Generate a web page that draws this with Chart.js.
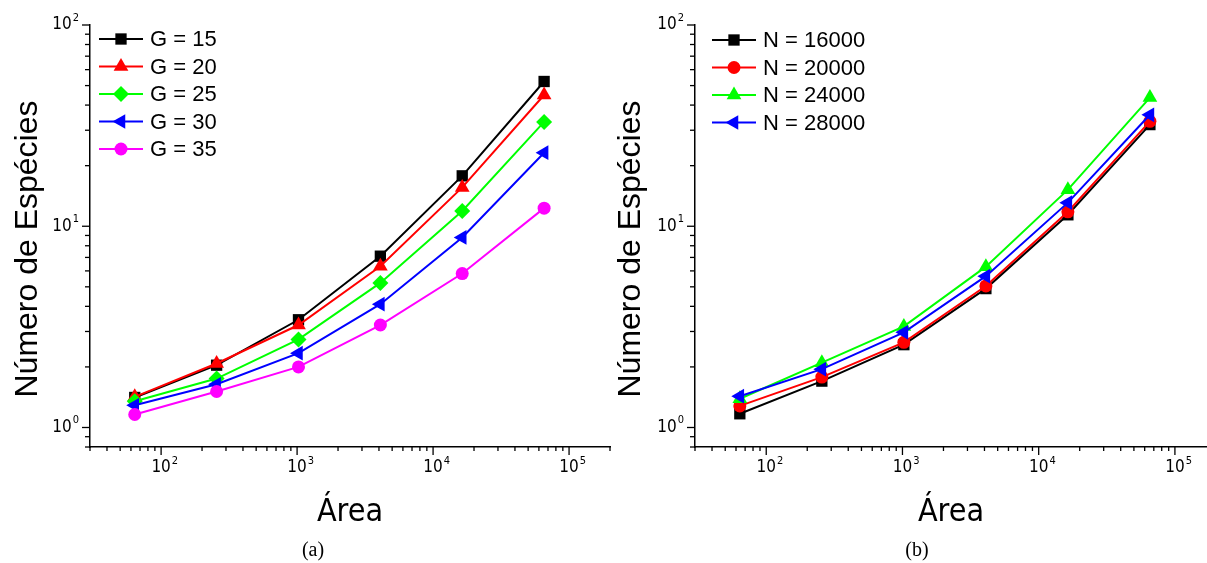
<!DOCTYPE html>
<html>
<head>
<meta charset="utf-8">
<script src="https://cdn.jsdelivr.net/npm/chart.js@4.4.1/dist/chart.umd.min.js"></script>
<style>
  body { margin: 0; background: #fff; }
  #wrap { position: relative; width: 1207px; height: 563px; overflow: hidden; }
  canvas { position: absolute; top: 0; }
  .cap { position: absolute; font: 20px 'Liberation Serif', 'Times New Roman', serif; transform: translate(-50%, -50%); color: #000; }
</style>
</head>
<body>
<div id="wrap">
  <canvas id="painelA" width="612" height="563" style="left:0"></canvas>
  <canvas id="painelB" width="595" height="563" style="left:612px"></canvas>
  <div class="cap" style="left:313px;top:549px">(a)</div>
  <div class="cap" style="left:917px;top:549px">(b)</div>
</div>
<script>
// areas simuladas (eixo x)
const areas = [64, 256, 1024, 4096, 16384, 65536];

// painel (a): variando G
const g15 = [1.41, 2.04, 3.43, 7.1, 17.8, 52.4];
const g20 = [1.42, 2.08, 3.23, 6.33, 15.6, 44.9];
const g25 = [1.35, 1.75, 2.74, 5.23, 11.9, 33.0];
const g30 = [1.29, 1.64, 2.34, 4.1, 8.8, 23.2];
const g35 = [1.16, 1.51, 2.0, 3.23, 5.82, 12.3];

// painel (b): variando N
const n16000 = [1.17, 1.70, 2.58, 4.9, 11.4, 32.0];
const n20000 = [1.28, 1.78, 2.65, 5.05, 11.8, 33.2];
const n24000 = [1.39, 2.1, 3.18, 6.3, 15.2, 43.6];
const n28000 = [1.43, 1.95, 2.97, 5.65, 13.1, 35.8];

const yTitulo = 'Número de Espécies';

const baseFont = '17px "Liberation Sans Narrow", "DejaVu Sans Condensed", "Liberation Sans", sans-serif';
const supFont = '11px "Liberation Sans Narrow", "DejaVu Sans Condensed", "Liberation Sans", sans-serif';

function isDecade(v) {
    const e = Math.log10(v);
    return Math.abs(e - Math.round(e)) < 1e-6;
}
function isWhole(v) {
    const s = v / Math.pow(10, Math.floor(Math.log10(v) + 1e-9));
    return Math.abs(s - Math.round(s)) < 1e-6;
}

function drawPow(ctx, exp, x, y, align) {
    ctx.font = baseFont;
    const wb = ctx.measureText('10').width;
    ctx.font = supFont;
    const ws = ctx.measureText(String(exp)).width;
    const x0 = align === 'center' ? x - wb / 2 : x - wb - ws - 1;
    ctx.fillStyle = '#000';
    ctx.textAlign = 'left';
    ctx.textBaseline = 'middle';
    ctx.font = baseFont;
    ctx.fillText('10', x0, y);
    ctx.font = supFont;
    ctx.fillText(String(exp), x0 + wb + 1, y - 7);
}

// ticks maiores/menores, rotulos 10^n e titulo do eixo y
const axisDecor = {
    id: 'axisDecor',
    afterDraw(chart, args, opts) {
        const ctx = chart.ctx;
        const xs = chart.scales.x, ys = chart.scales.y;
        ctx.save();
        ctx.strokeStyle = '#000';
        ctx.lineWidth = 1.3;
        xs.ticks.forEach(t => {
            if (!isWhole(t.value)) return;
            const px = xs.getPixelForValue(t.value);
            const major = isDecade(t.value);
            ctx.beginPath();
            ctx.moveTo(px, xs.top);
            ctx.lineTo(px, xs.top + (major ? 8 : 4));
            ctx.stroke();
            if (major) drawPow(ctx, Math.round(Math.log10(t.value)), px, xs.top + 21, 'center');
        });
        ys.ticks.forEach(t => {
            if (!isWhole(t.value)) return;
            const py = ys.getPixelForValue(t.value);
            const major = isDecade(t.value);
            ctx.beginPath();
            ctx.moveTo(ys.right, py);
            ctx.lineTo(ys.right - (major ? 8 : 5), py);
            ctx.stroke();
            if (major) drawPow(ctx, Math.round(Math.log10(t.value)), ys.right - 11, py, 'right');
        });
        // titulo vertical
        ctx.translate(opts.titleX, opts.titleY);
        ctx.rotate(-Math.PI / 2);
        ctx.font = '32px "Liberation Sans", Arial, sans-serif';
        ctx.fillStyle = '#000';
        ctx.textAlign = 'center';
        ctx.textBaseline = 'middle';
        ctx.fillText(yTitulo, 0, 0);
        ctx.restore();
    }
};

// legenda com linha + marcador
const legendBox = {
    id: 'legendBox',
    afterDraw(chart, args, opts) {
        const ctx = chart.ctx;
        chart.data.datasets.forEach((ds, i) => {
            const y = opts.y + i * opts.gap;
            ctx.save();
            ctx.strokeStyle = ds.borderColor;
            ctx.lineWidth = 2;
            ctx.beginPath();
            ctx.moveTo(opts.x, y);
            ctx.lineTo(opts.x + 44, y);
            ctx.stroke();
            ctx.fillStyle = ds.pointBackgroundColor;
            ctx.strokeStyle = ds.pointBackgroundColor;
            Chart.helpers.drawPoint(ctx, {
                pointStyle: ds.pointStyle,
                radius: ds.pointRadius,
                rotation: ds.pointRotation || 0,
                borderWidth: 0
            }, opts.x + 22, y);
            ctx.fillStyle = '#000';
            ctx.font = '22px "Liberation Sans", Arial, sans-serif';
            ctx.textAlign = 'left';
            ctx.textBaseline = 'middle';
            ctx.fillText(ds.label, opts.x + 51, y + 1);
            ctx.restore();
        });
    }
};

function serie(label, vals, color, style, rot, r, idx, total) {
    return {
        label: label,
        data: areas.map((a, i) => ({ x: a, y: vals[i] })),
        borderColor: color,
        backgroundColor: color,
        pointBackgroundColor: color,
        pointBorderColor: color,
        pointBorderWidth: 0,
        pointStyle: style,
        pointRotation: rot,
        pointRadius: r,
        pointHoverRadius: r,
        borderWidth: 2,
        tension: 0,
        order: total - idx
    };
}

function opcoes(cfg) {
    return {
        responsive: false,
        animation: false,
        layout: { autoPadding: false, padding: { top: 25, right: cfg.right, left: 0, bottom: 0 } },
        plugins: {
            legend: { display: false },
            tooltip: { enabled: false },
            legendBox: { x: cfg.legX, y: cfg.legY, gap: 27.5 },
            axisDecor: { titleX: cfg.titleX, titleY: 249 }
        },
        scales: {
            x: {
                type: 'logarithmic',
                min: 30,
                max: cfg.xmax,
                grid: { display: false },
                border: { display: true, color: '#000', width: 1.5 },
                ticks: { display: false },
                title: {
                    display: true,
                    text: 'Área',
                    color: '#000',
                    font: { family: '"Liberation Sans Narrow", "DejaVu Sans Condensed", "Liberation Sans", sans-serif', size: 32, lineHeight: 1 },
                    padding: { top: 0, bottom: 34 }
                },
                afterFit: s => { s.height = 116; }
            },
            y: {
                type: 'logarithmic',
                min: 0.8,
                max: 100,
                grid: { display: false },
                border: { display: true, color: '#000', width: 1.5 },
                ticks: { display: false },
                title: { display: false },
                afterFit: s => { s.width = cfg.yWidth; }
            }
        }
    };
}

new Chart(document.getElementById('painelA'), {
    type: 'line',
    data: {
        datasets: [
            serie('G = 15', g15, '#000000', 'rect', 0, 8, 0, 5),
            serie('G = 20', g20, '#ff0000', 'triangle', 0, 8.5, 1, 5),
            serie('G = 25', g25, '#00ff00', 'rectRot', 0, 8, 2, 5),
            serie('G = 30', g30, '#0000ff', 'triangle', -90, 8.5, 3, 5),
            serie('G = 35', g35, '#ff00ff', 'circle', 0, 6.5, 4, 5)
        ]
    },
    options: opcoes({ right: 2, xmax: 2e5, yWidth: 90, titleX: 28, legX: 99, legY: 39 }),
    plugins: [axisDecor, legendBox]
});

new Chart(document.getElementById('painelB'), {
    type: 'line',
    data: {
        datasets: [
            serie('N = 16000', n16000, '#000000', 'rect', 0, 8, 0, 4),
            serie('N = 20000', n20000, '#ff0000', 'circle', 0, 6.5, 1, 4),
            serie('N = 24000', n24000, '#00ff00', 'triangle', 0, 8.5, 2, 4),
            serie('N = 28000', n28000, '#0000ff', 'triangle', -90, 8.5, 3, 4)
        ]
    },
    options: opcoes({ right: 0, xmax: 1.72e5, yWidth: 83, titleX: 19, legX: 100, legY: 40 }),
    plugins: [axisDecor, legendBox]
});
</script>
</body>
</html>
